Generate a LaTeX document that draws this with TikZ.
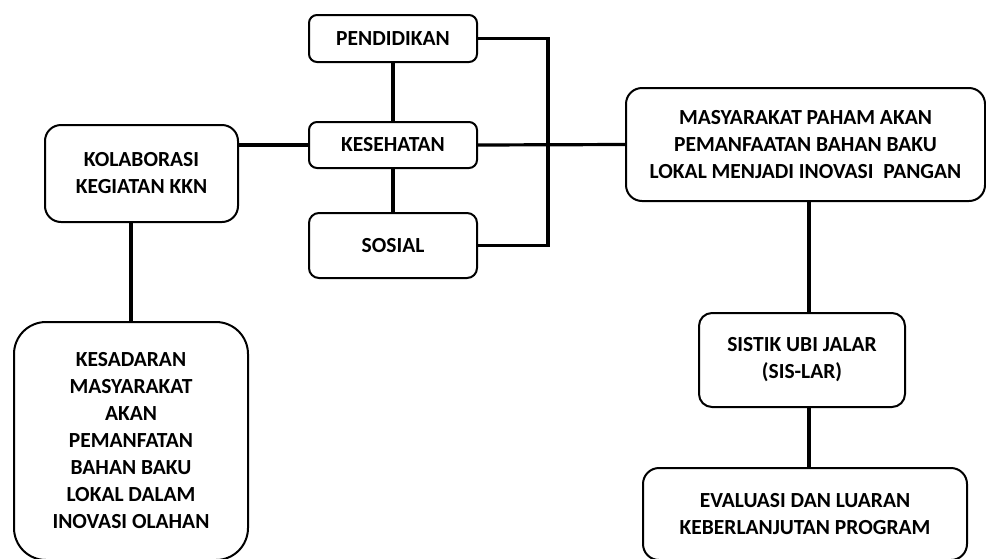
\documentclass[tikz,border=0pt]{standalone}
\usepackage{fontspec}
\setmainfont{Carlito}
\usepackage{tikz}
\usetikzlibrary{positioning, calc}

\begin{document}
\begin{tikzpicture}[
            x=1pt, y=-1pt,
            box/.style={rectangle, draw, rounded corners=8pt, line width=2pt,
                        align=center, inner sep=0pt,
                        font=\fontsize{21.5}{27}\selectfont\bfseries},
            link/.style={line width=3.2pt}
        ]

        % ===== FRAME =====
        \useasboundingbox (0,0) rectangle (986,558);
        \clip (0,0) rectangle (986,558);

        % ===== MIDDLE COLUMN =====
        \node[box, minimum width=168pt, minimum height=47pt] (pendidikan) at (393,38.5) {PENDIDIKAN};
        \node[box, minimum width=168pt, minimum height=46pt] (kesehatan) at (393,145) {KESEHATAN};
        \node[box, minimum width=168pt, minimum height=65pt, rounded corners=10pt] (sosial) at (393,245.5) {SOSIAL};

        % ===== LEFT SIDE =====
        \node[box, minimum width=193pt, minimum height=97pt, rounded corners=16pt] (kolaborasi) at (141.5,173.5) {KOLABORASI\\KEGIATAN KKN};
        \node[box, minimum width=234pt, minimum height=238pt, rounded corners=32pt] (kesadaran) at (131,441)
            {KESADARAN\\MASYARAKAT\\AKAN\\PEMANFATAN\\BAHAN BAKU\\LOKAL DALAM\\INOVASI OLAHAN};

        % ===== RIGHT SIDE =====
        \node[box, minimum width=359pt, minimum height=113pt, rounded corners=16pt] (masyarakat) at (805.5,144.5)
            {MASYARAKAT PAHAM AKAN\\PEMANFAATAN BAHAN BAKU\\LOKAL MENJADI INOVASI\ \ PANGAN};
        \node[box, minimum width=206pt, minimum height=94pt, rounded corners=13pt] (sistik) at (802,360) {SISTIK UBI JALAR\\(SIS-LAR)};
        \node[box, minimum width=324pt, minimum height=92pt, rounded corners=16pt] (evaluasi) at (805,514)
            {EVALUASI DAN LUARAN\\KEBERLANJUTAN PROGRAM};

        % ===== CONNECTORS =====
        \coordinate (jct) at (548,145);
        \coordinate (spine) at (809,145);
        \draw[link] (pendidikan) -- (kesehatan);
        \draw[link] (kesehatan) -- (sosial);
        \draw[link] (pendidikan.east) -| (jct) |- (sosial.east);
        \draw[link] (kolaborasi.east |- kesehatan.west) -- (kesehatan.west);
        \draw[link] (kesehatan.east) -- (masyarakat.west);
        \draw[link] (kesadaran.north) -- (kesadaran.north |- kolaborasi.south);
        \draw[link] (spine |- masyarakat.south) -- (spine |- sistik.north);
        \draw[link] (spine |- sistik.south) -- (spine |- evaluasi.north);

        \end{tikzpicture}
\end{document}
